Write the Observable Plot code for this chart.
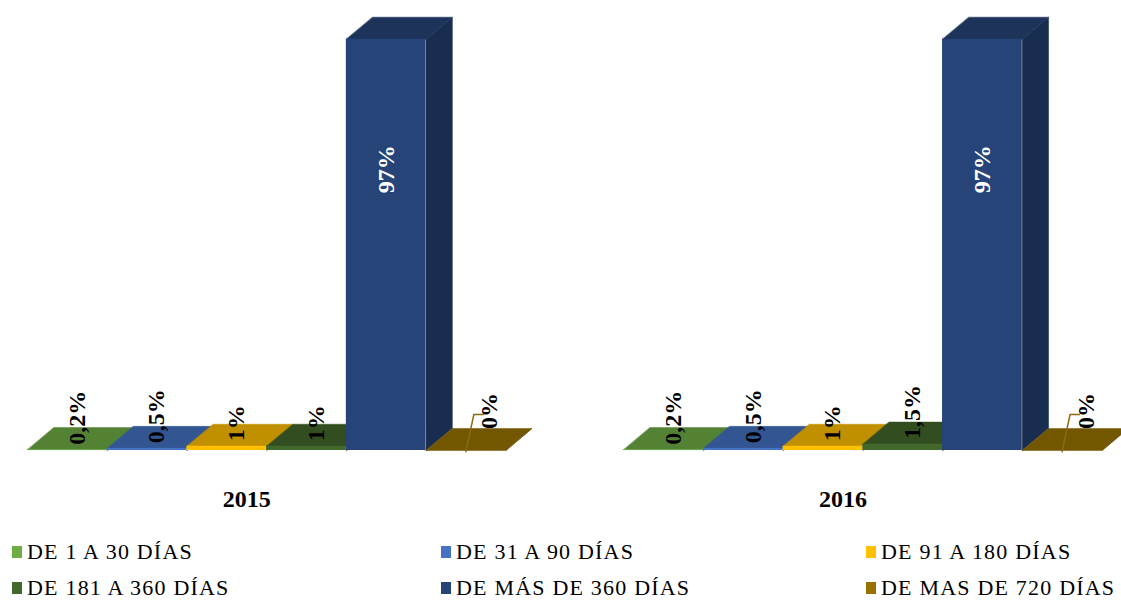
<!DOCTYPE html>
<html>
<head>
<meta charset="utf-8">
<script src="https://cdn.jsdelivr.net/npm/d3@7"></script>
<script src="https://cdn.jsdelivr.net/npm/@observablehq/plot@0.6"></script>
<style>
  body { margin: 0; background: #fff; }
  #chart { width: 1121px; }
  .legend {
    display: grid;
    grid-template-columns: 429px 425px 255px;
    padding: 14px 0 0 12px;
    font-family: "Liberation Serif", "Times New Roman", serif;
    font-size: 22px;
    letter-spacing: 1.2px;
    color: #000;
  }
  .legend .item { height: 36px; display: flex; align-items: center; white-space: nowrap; }
  .legend .sw { display: inline-block; width: 10px; height: 12px; margin-right: 5px; flex: none; }
</style>
</head>
<body>
<div id="chart"></div>
<script>
// Antigüedad de la cartera por año (porcentaje del total)
const years = ["2015", "2016"];
const series = [
  "DE 1 A 30 DÍAS",
  "DE 31 A 90 DÍAS",
  "DE 91 A 180 DÍAS",
  "DE 181 A 360 DÍAS",
  "DE MÁS DE 360 DÍAS",
  "DE MAS DE 720 DÍAS"
];
const values2015 = [0.2, 0.5, 1, 1, 97, 0];
const values2016 = [0.2, 0.5, 1, 1.5, 97, 0];
const palette = ["#70AD47", "#4472C4", "#FFC000", "#43682B", "#264478", "#997300"];

// Geometry of the pseudo-3D columns, in scale units
const groupStride = series.length + 1.48; // slots per year group (incl. gap)
const depthX = 0.33;                        // receding depth, x units (slots)
const depthY = 5.2;                         // receding depth, y units (%)
const yearLabelAt = 2.75;                   // category label position inside a group

const valuesByYear = [values2015, values2016];
const bars = years.flatMap((year, g) =>
  valuesByYear[g].map((value, s) => {
    const x0 = g * groupStride + s;
    return {
      key: year + "|" + s, year, series: series[s], value,
      x0, x1: x0 + 1, xc: x0 + 0.5,
      front: palette[s],
      top: d3.rgb(palette[s]).darker(0.8).formatHex(),
      side: d3.rgb(palette[s]).darker(1.15).formatHex()
    };
  })
);

const poly = (b, pts, color) => pts.map(([x, y]) => ({key: b.key, x, y, color}));
const sides = bars.flatMap(b => poly(b, [
  [b.x1, 0], [b.x1, b.value], [b.x1 + depthX, b.value + depthY], [b.x1 + depthX, depthY]
], b.side));
const tops = bars.flatMap(b => poly(b, [
  [b.x0, b.value], [b.x1, b.value], [b.x1 + depthX, b.value + depthY], [b.x0 + depthX, b.value + depthY]
], b.top));

// Data labels: inside (white) for the tall columns, above the top face otherwise,
// lifted with a leader line for empty categories
const fmt = v => String(v).replace(".", ",") + "%";
const outsideLabels = bars.filter(b => b.value <= 50).map(b => b.value === 0
  ? {text: fmt(b.value), lx: b.xc + 0.3, ly: 6.5}
  : {text: fmt(b.value), lx: b.xc + 0.12, ly: b.value + depthY / 2});
const insideLabels = bars.filter(b => b.value > 50).map(b => ({text: fmt(b.value), lx: b.xc, ly: b.value}));
const leaders = bars.filter(b => b.value === 0).flatMap(b => [
  {key: b.key, x: b.xc, y: -0.3},
  {key: b.key, x: b.xc + 0.1, y: 8.5},
  {key: b.key, x: b.xc + 0.22, y: 8.5}
]);
const yearLabels = years.map((year, g) => ({year, x: g * groupStride + yearLabelAt}));

const chart = Plot.plot({
  width: 1121,
  height: 520,
  marginLeft: 27,
  marginRight: 2,
  marginTop: 26,
  marginBottom: 70,
  style: {fontFamily: "'Liberation Serif', 'Times New Roman', serif", background: "#fff", overflow: "visible"},
  x: {type: "linear", domain: [0, 13.7], axis: null},
  y: {type: "linear", domain: [0, 100], axis: null},
  color: {type: "identity"},
  marks: [
    Plot.line(sides, {x: "x", y: "y", z: "key", fill: "color", stroke: "color", strokeWidth: 0.5, curve: "linear-closed"}),
    Plot.line(tops, {x: "x", y: "y", z: "key", fill: "color", stroke: "color", strokeWidth: 0.5, curve: "linear-closed"}),
    Plot.rect(bars, {x1: "x0", x2: "x1", y1: 0, y2: "value", fill: "front"}),
    Plot.line(leaders, {x: "x", y: "y", z: "key", stroke: "#8a6a0c", strokeWidth: 1.5}),
    Plot.text(outsideLabels, {
      x: "lx", y: "ly", text: "text", rotate: -90, textAnchor: "start", dy: 6,
      fontSize: 24, fontWeight: "bold", fill: "#000"
    }),
    Plot.text(insideLabels, {
      x: "lx", y: "ly", text: "text", rotate: -90, textAnchor: "end", dy: 106,
      fontSize: 24, fontWeight: "bold", fill: "#fff"
    }),
    Plot.text(yearLabels, {x: "x", y: 0, text: "year", dy: 49, fontSize: 24, fontWeight: "bold", fill: "#000"})
  ]
});

const root = document.getElementById("chart");
root.appendChild(chart);

// Legend below the plot: three columns, two rows
const legend = document.createElement("div");
legend.className = "legend";
series.forEach((name, i) => {
  const item = document.createElement("div");
  item.className = "item";
  const sw = document.createElement("span");
  sw.className = "sw";
  sw.style.background = palette[i];
  item.appendChild(sw);
  item.appendChild(document.createTextNode(name));
  legend.appendChild(item);
});
root.appendChild(legend);
</script>
</body>
</html>
